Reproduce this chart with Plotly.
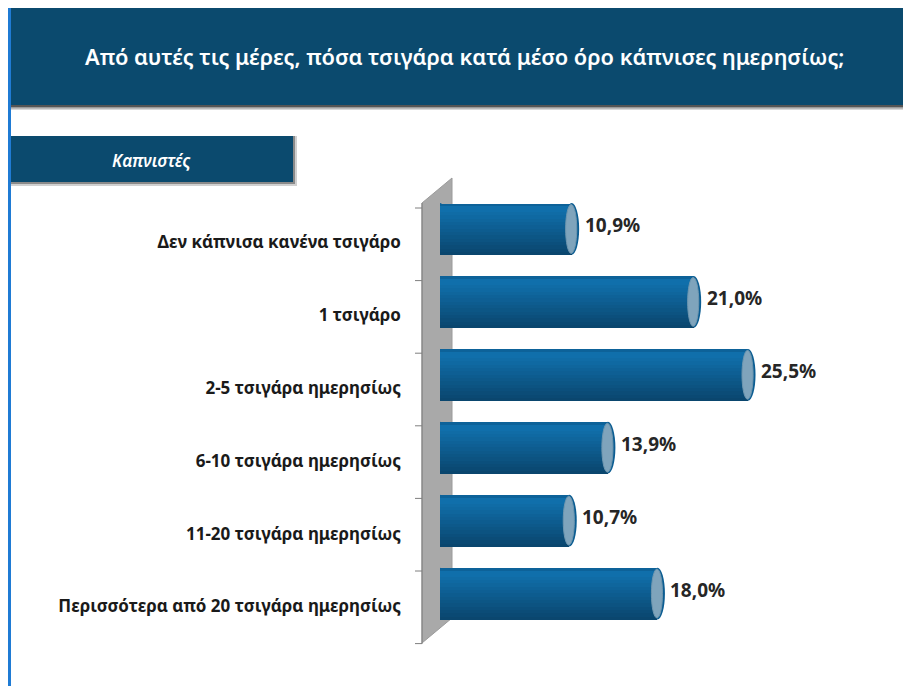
import plotly.graph_objects as go

# data
categories = [
    "Δεν κάπνισα κανένα τσιγάρο",
    "1 τσιγάρο",
    "2-5 τσιγάρα ημερησίως",
    "6-10 τσιγάρα ημερησίως",
    "11-20 τσιγάρα ημερησίως",
    "Περισσότερα από 20 τσιγάρα ημερησίως",
]
values = [10.9, 21.0, 25.5, 13.9, 10.7, 18.0]
value_labels = ["10,9%", "21,0%", "25,5%", "13,9%", "10,7%", "18,0%"]

TITLE = "Από αυτές τις μέρες, πόσα τσιγάρα κατά μέσο όρο κάπνισες ημερησίως;"
SUBTITLE = "Καπνιστές"

# the page body has an 8px margin, so the figure is a bit smaller than the window
PAGE_OFF = 8
W, H = 911 - PAGE_OFF, 686 - PAGE_OFF
BANNER = "#0b4a6e"
FONT = "Noto Sans"
BAR_W = 0.71
PX_PER_UNIT = 12.08
X0_PX = 440  # where 0 % sits (window pixels)


def mix(c1, c2, t):
    a = [int(c1[i:i + 2], 16) for i in (1, 3, 5)]
    b = [int(c2[i:i + 2], 16) for i in (1, 3, 5)]
    return "#" + "".join(f"{round(a[k] + (b[k] - a[k]) * t):02x}" for k in range(3))


# shading layers for the cylinder look: (fraction of bar from the top, colour)
N_SHADE = 14
SHADES = []
for k in range(N_SHADE):
    frac = 1 - k * (0.9 / N_SHADE)
    SHADES.append((frac, mix("#0a466e", "#106fab", k / (N_SHADE - 1))))
SHADES.append((0.05, "#0d6299"))


def px(x):
    return (x - PAGE_OFF) / W


def py(y):
    return 1 - (y - PAGE_OFF) / H


fig = go.Figure()

for frac, col in SHADES:
    fig.add_trace(go.Bar(
        x=values,
        y=categories,
        orientation="h",
        width=BAR_W * frac,
        offset=-BAR_W / 2,
        marker=dict(color=col, line=dict(width=0)),
        hoverinfo="skip",
        showlegend=False,
    ))

shapes = []

# grey 3D wall behind the bars
shapes.append(dict(
    type="path", xref="paper", yref="paper", layer="below",
    path=(f"M {px(422)},{py(203)} L {px(452)},{py(178)} "
          f"L {px(452)},{py(618)} L {px(422)},{py(643)} Z"),
    fillcolor="#a9a9a9", line=dict(color="#9a9a9a", width=1),
))
shapes.append(dict(
    type="line", xref="paper", yref="paper", layer="below",
    x0=px(422), x1=px(422), y0=py(203), y1=py(644),
    line=dict(color="#7f7f7f", width=1),
))
for k in range(7):
    yy = 208 + k * 72.6
    shapes.append(dict(
        type="line", xref="paper", yref="paper",
        x0=px(415), x1=px(422), y0=py(yy), y1=py(yy),
        line=dict(color="#7f7f7f", width=1),
    ))

# rounded ends of each cylinder
for i, v in enumerate(values):
    shapes.append(dict(
        type="circle", xref="x", yref="y", layer="below",
        x0=-0.6, x1=0.6, y0=i - BAR_W / 2, y1=i + BAR_W / 2,
        fillcolor="#0c5d92", line=dict(width=0),
    ))
    shapes.append(dict(
        type="circle", xref="x", yref="y", layer="below",
        x0=v - 0.62, x1=v + 0.62, y0=i - BAR_W / 2, y1=i + BAR_W / 2,
        fillcolor="#0c5d92", line=dict(width=0),
    ))
    shapes.append(dict(
        type="circle", xref="x", yref="y", layer="above",
        x0=v - 0.5, x1=v + 0.42, y0=i - BAR_W / 2 + 0.02, y1=i + BAR_W / 2 - 0.02,
        fillcolor="#7fa4bc", line=dict(color="#6f97b0", width=1),
    ))

# page frame, title banner and its shadow
shapes.append(dict(type="line", xref="paper", yref="paper",
                   x0=px(9.5), x1=px(9.5), y0=py(8), y1=py(686),
                   line=dict(color="#1f7bd4", width=3)))
for d, col in [(5, "#d8d8d8"), (3.5, "#9a9a9a"), (2, "#555555")]:
    shapes.append(dict(type="rect", xref="paper", yref="paper",
                       x0=px(11), x1=px(911), y0=py(8), y1=py(105 + d),
                       fillcolor=col, line=dict(width=0)))
shapes.append(dict(type="rect", xref="paper", yref="paper",
                   x0=px(11), x1=px(911), y0=py(8), y1=py(105),
                   fillcolor=BANNER, line=dict(width=0)))

# subtitle box with shadow
for d, col in [(4, "#d0d0d0"), (2, "#8a8a8a")]:
    shapes.append(dict(type="rect", xref="paper", yref="paper",
                       x0=px(11), x1=px(293 + d), y0=py(136), y1=py(182 + d),
                       fillcolor=col, line=dict(width=0)))
shapes.append(dict(type="rect", xref="paper", yref="paper",
                   x0=px(11), x1=px(293), y0=py(136), y1=py(182),
                   fillcolor=BANNER, line=dict(width=0)))

annotations = [
    dict(text=TITLE, xref="paper", yref="paper", x=px(465), y=py(56),
         xanchor="center", yanchor="middle", showarrow=False,
         font=dict(family=FONT, size=21.8, color="white", weight=600)),
    dict(text=f"<i>{SUBTITLE}</i>", xref="paper", yref="paper", x=px(151), y=py(160),
         xanchor="center", yanchor="middle", showarrow=False,
         font=dict(family=FONT, size=17, color="white", weight=600)),
]
for i, (v, lab) in enumerate(zip(values, value_labels)):
    annotations.append(dict(
        text=f"<b>{lab}</b>", x=v, y=i, xref="x", yref="y",
        xanchor="left", xshift=11, yshift=4, showarrow=False,
        font=dict(family=FONT, size=19, color="#262626"),
    ))

fig.update_layout(
    width=W, height=H,
    margin=dict(l=0, r=0, t=0, b=0),
    paper_bgcolor="white",
    plot_bgcolor="rgba(0,0,0,0)",
    barmode="overlay",
    bargap=0,
    shapes=shapes,
    annotations=annotations,
    xaxis=dict(
        domain=[px(X0_PX), 1],
        range=[0, (911 - X0_PX) / PX_PER_UNIT],
        visible=False,
        fixedrange=True,
    ),
    yaxis=dict(
        domain=[py(630), py(192.5)],
        autorange="reversed",
        showgrid=False,
        zeroline=False,
        showline=False,
        ticks="",
        ticklabelstandoff=38,
        ticklabelshift=-13,
        tickfont=dict(family=FONT, size=17, color="#1a1a1a", weight="bold"),
    ),
)

fig.write_html("out.html")
